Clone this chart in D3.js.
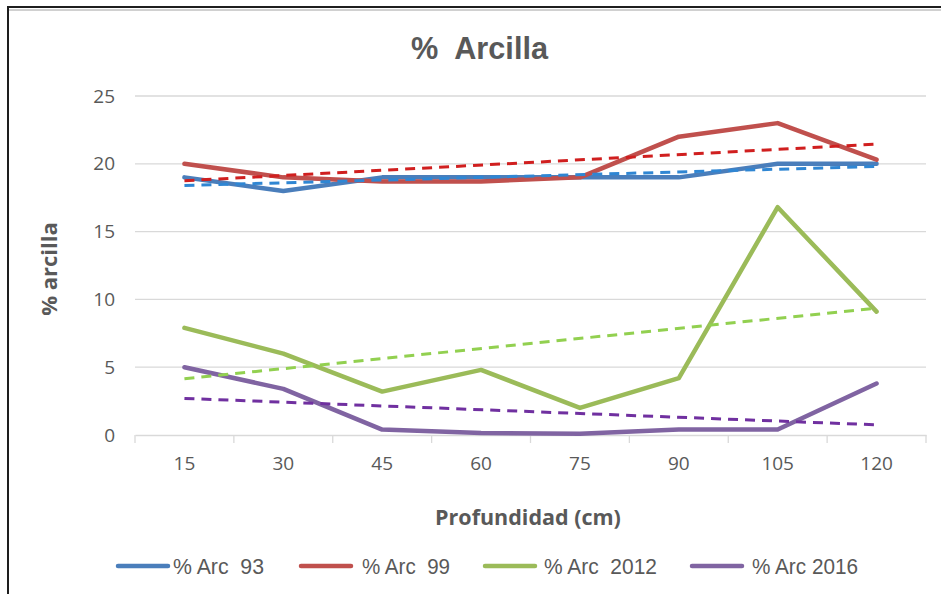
<!DOCTYPE html>
<html>
<head>
<meta charset="utf-8">
<script src="https://cdn.jsdelivr.net/npm/d3@7"></script>
<style>
  html, body { margin: 0; padding: 0; background: #fff; }
  svg { display: block; }
</style>
</head>
<body>
<svg id="chart" width="941" height="594"></svg>
<script>
// Depth categories (cm) and clay percentage per survey year
const depths = ["15", "30", "45", "60", "75", "90", "105", "120"];
const arc93   = [19, 18, 19, 19, 19, 19, 20, 20];
const arc99   = [20, 19, 18.7, 18.7, 19, 22, 23, 20.3];
const arc2012 = [7.9, 6.0, 3.2, 4.8, 2.0, 4.2, 16.8, 9.1];
const arc2016 = [5.0, 3.4, 0.4, 0.15, 0.1, 0.4, 0.4, 3.8];

// Linear trend lines: value at first and last depth
const trend93   = [18.4, 19.8];
const trend99   = [18.75, 21.45];
const trend2012 = [4.15, 9.35];
const trend2016 = [2.7, 0.75];

const yTicks = [0, 5, 10, 15, 20, 25];
const seriesNames = ["% Arc  93", "% Arc  99", "% Arc  2012", "% Arc 2016"];

const lineColors  = ["#4a7ebb", "#c0504d", "#9bbb59", "#8064a2"];
const trendColors = ["#2f86d3", "#d01f1f", "#92d050", "#7030a0"];

const narrowFont = "'Liberation Sans Narrow', 'Arial Narrow', 'Liberation Sans', sans-serif";

const svg = d3.select("#chart");

// Outer frame (top and left edges)
svg.append("line").attr("x1", 8).attr("x2", 941).attr("y1", 10).attr("y2", 10)
  .attr("stroke", "#d0d0d0").attr("stroke-width", 2);
svg.append("path").attr("d", "M8,594 L8,7 L941,7")
  .attr("fill", "none").attr("stroke", "#1e1e1e").attr("stroke-width", 2);

const x = d3.scaleBand().domain(depths).range([135, 926]).padding(0);
const y = d3.scaleLinear().domain([0, 25]).range([435, 96]);
const cx = d => x(d) + x.bandwidth() / 2;

// Gridlines
svg.append("g")
  .selectAll("line")
  .data(yTicks.filter(t => t > 0))
  .join("line")
  .attr("x1", 135).attr("x2", 926)
  .attr("y1", d => y(d)).attr("y2", d => y(d))
  .attr("stroke", "#d9d9d9").attr("stroke-width", 1.3);

// Y axis labels
const yAxis = d3.axisLeft(y).tickValues(yTicks).tickSize(0).tickPadding(20);
const gy = svg.append("g").attr("transform", "translate(135,0)").call(yAxis);
gy.select(".domain").remove();
gy.selectAll("text")
  .attr("fill", "#595959")
  .style("font-family", "'Open Sans', sans-serif")
  .style("font-size", "19px");

// X axis with boundary ticks
const xAxis = d3.axisBottom(x).tickSize(0).tickPadding(22);
const gx = svg.append("g").attr("transform", "translate(0,435)").call(xAxis);
gx.select(".domain").attr("stroke", "#d9d9d9").attr("stroke-width", 1.3);
gx.selectAll("text")
  .attr("fill", "#595959")
  .style("font-family", "'Open Sans', sans-serif")
  .style("font-size", "19px");
svg.append("g")
  .selectAll("line")
  .data(depths.map(d => x(d)).concat([x(depths[depths.length - 1]) + x.bandwidth()]))
  .join("line")
  .attr("x1", d => d).attr("x2", d => d)
  .attr("y1", 435).attr("y2", 443)
  .attr("stroke", "#d9d9d9").attr("stroke-width", 1.3);

// Series lines
const line = d3.line().x((d, i) => cx(depths[i])).y(d => y(d));
const allSeries = [arc93, arc99, arc2012, arc2016];
allSeries.forEach((s, i) => {
  svg.append("path")
    .datum(s)
    .attr("d", line)
    .attr("fill", "none")
    .attr("stroke", lineColors[i])
    .attr("stroke-width", 4.5)
    .attr("stroke-linejoin", "round")
    .attr("stroke-linecap", "round");
});

// Trend lines
const trends = [trend93, trend99, trend2012, trend2016];
trends.forEach((t, i) => {
  svg.append("line")
    .attr("x1", cx(depths[0])).attr("x2", cx(depths[depths.length - 1]))
    .attr("y1", y(t[0])).attr("y2", y(t[1]))
    .attr("stroke", trendColors[i])
    .attr("stroke-width", 3)
    .attr("stroke-dasharray", "10,7");
});

// Title (condensed look)
svg.append("text")
  .attr("x", 411).attr("y", 59)
  .attr("fill", "#595959")
  .attr("xml:space", "preserve")
  .attr("textLength", 137)
  .attr("lengthAdjust", "spacingAndGlyphs")
  .style("white-space", "pre")
  .style("font-family", narrowFont)
  .style("font-weight", "bold")
  .style("font-size", "32px")
  .text("%  Arcilla");

// Axis titles
svg.append("text")
  .attr("transform", "translate(57,269) rotate(-90)")
  .attr("text-anchor", "middle")
  .attr("fill", "#595959")
  .style("font-family", "'Open Sans', sans-serif")
  .style("font-weight", "bold")
  .style("font-size", "22px")
  .text("% arcilla");

svg.append("text")
  .attr("x", 528).attr("y", 525)
  .attr("text-anchor", "middle")
  .attr("fill", "#595959")
  .style("font-family", "'Open Sans', sans-serif")
  .style("font-weight", "bold")
  .style("font-size", "21.5px")
  .text("Profundidad (cm)");

// Legend
const legendX = [116, 299, 483, 690];
const legendTextX = [173, 362, 544, 752];
const legendTextW = [91, 88, 113, 106];
const lg = svg.append("g");
seriesNames.forEach((name, i) => {
  lg.append("line")
    .attr("x1", legendX[i] + 2).attr("x2", legendX[i] + 52)
    .attr("y1", 566).attr("y2", 566)
    .attr("stroke", lineColors[i]).attr("stroke-width", 4.5)
    .attr("stroke-linecap", "round");
  lg.append("text")
    .attr("x", legendTextX[i]).attr("y", 574)
    .attr("fill", "#595959")
    .attr("xml:space", "preserve")
    .attr("textLength", legendTextW[i])
    .attr("lengthAdjust", "spacingAndGlyphs")
    .style("white-space", "pre")
    .style("font-family", narrowFont)
    .style("font-size", "22px")
    .text(name);
});
</script>
</body>
</html>
